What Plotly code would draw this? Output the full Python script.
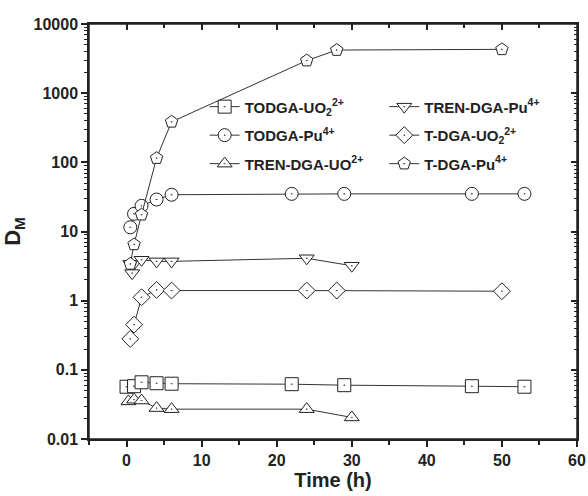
import plotly.graph_objects as go

# ---- data ----
todga_uo2_t = [0, 1, 2, 4, 6, 22, 29, 46, 53]
todga_uo2_d = [0.057, 0.058, 0.066, 0.064, 0.063, 0.062, 0.060, 0.058, 0.057]

todga_pu_t = [0.5, 1, 2, 4, 6, 22, 29, 46, 53]
todga_pu_d = [11.5, 18, 23.5, 29, 34, 35, 35, 35, 35]

tren_uo2_t = [0.25, 1, 2, 4, 6, 24, 30]
tren_uo2_d = [0.035, 0.037, 0.036, 0.028, 0.027, 0.027, 0.0205]

tren_pu_t = [0.5, 0.75, 2, 4, 6, 24, 30]
tren_pu_d = [3.4, 2.5, 3.9, 3.7, 3.7, 4.1, 3.2]

tdga_uo2_t = [0.5, 1, 2, 4, 6, 24, 28, 50]
tdga_uo2_d = [0.28, 0.45, 1.12, 1.43, 1.4, 1.4, 1.4, 1.37]

tdga_pu_t = [0.5, 1, 2, 4, 6, 24, 28, 50]
tdga_pu_d = [3.4, 6.5, 17.5, 115, 385, 2960, 4200, 4300]

series = [
    ("TODGA-UO<sub>2</sub><sup>2+</sup>", todga_uo2_t, todga_uo2_d, "square-dot", "legend"),
    ("TODGA-Pu<sup>4+</sup>", todga_pu_t, todga_pu_d, "circle-dot", "legend"),
    ("TREN-DGA-UO<sup>2+</sup>", tren_uo2_t, tren_uo2_d, "triangle-up-dot", "legend"),
    ("TREN-DGA-Pu<sup>4+</sup>", tren_pu_t, tren_pu_d, "triangle-down-dot", "legend2"),
    ("T-DGA-UO<sub>2</sub><sup>2+</sup>", tdga_uo2_t, tdga_uo2_d, "diamond-dot", "legend2"),
    ("T-DGA-Pu<sup>4+</sup>", tdga_pu_t, tdga_pu_d, "pentagon-dot", "legend2"),
]

FONT = "Liberation Sans, Arial, sans-serif"
INK = "#222222"

fig = go.Figure()
for i, (name, t, d, sym, leg) in enumerate(series):
    fig.add_trace(go.Scatter(
        x=t, y=d, name="<b>" + name + "</b>", mode="lines+markers", legend=leg,
        legendgroup="g%d" % i,
        line=dict(color="#333333", width=1),
        marker=dict(symbol=sym, size=13, color="white",
                    line=dict(color=INK, width=1)),
    ))

# invisible companion trace so the mirrored top/right tick axes get drawn
fig.add_trace(go.Scatter(
    x=todga_uo2_t, y=todga_uo2_d, xaxis="x2", yaxis="y2", mode="markers",
    marker=dict(opacity=0), showlegend=False, hoverinfo="skip",
))

axis_font = dict(family=FONT, size=16, color=INK)
common = dict(tickcolor=INK, tickwidth=1.5, linecolor=INK, linewidth=1.5,
              showgrid=False, zeroline=False, automargin=False)

fig.update_layout(
    width=588, height=496,
    margin=dict(l=89, r=11, t=24, b=57),
    paper_bgcolor="white", plot_bgcolor="white",
    font=dict(family=FONT, color=INK),
    xaxis=dict(
        range=[-5, 60], dtick=10, tick0=0, ticks="outside", ticklen=6,
        tickfont=axis_font,
        minor=dict(ticks="outside", ticklen=4, dtick=5, tick0=0, tickwidth=1.5,
                   tickcolor=INK, showgrid=False),
        title=dict(text="<b>Time (h)</b>", font=dict(family=FONT, size=20), standoff=4),
        tickprefix="<b>", ticksuffix="</b>", **common,
    ),
    yaxis=dict(
        type="log", range=[-2, 4], dtick=1, ticks="outside", ticklen=6,
        tickfont=axis_font, tickformat="~g",
        minor=dict(ticks="outside", ticklen=3, tickwidth=1, tickcolor=INK, showgrid=False),
        title=dict(text="<b>D<sub>M</sub></b>", font=dict(family=FONT, size=22), standoff=14),
        tickprefix="<b>", ticksuffix="</b>", **common,
    ),
    xaxis2=dict(
        overlaying="x", side="top", anchor="y", range=[-5, 60],
        dtick=10, tick0=0, ticks="inside", ticklen=6, showticklabels=False,
        minor=dict(ticks="inside", ticklen=4, dtick=5, tick0=0, tickwidth=1.5,
                   tickcolor=INK, showgrid=False),
        **common,
    ),
    yaxis2=dict(
        overlaying="y", side="right", anchor="x", type="log", range=[-2, 4],
        dtick=1, ticks="inside", ticklen=6, showticklabels=False,
        minor=dict(ticks="inside", ticklen=3, tickwidth=1, tickcolor=INK, showgrid=False),
        **common,
    ),
    legend=dict(
        x=0.237, y=0.84, xanchor="left", yanchor="top", bgcolor="rgba(0,0,0,0)",
        font=dict(family=FONT, size=15, color=INK), tracegroupgap=6,
        itemwidth=30,
    ),
    legend2=dict(
        x=0.605, y=0.84, xanchor="left", yanchor="top", bgcolor="rgba(0,0,0,0)",
        font=dict(family=FONT, size=15, color=INK), tracegroupgap=6,
        itemwidth=30,
    ),
    showlegend=True,
    shapes=[dict(type="rect", xref="paper", yref="paper", x0=0, x1=1, y0=0, y1=1,
                 line=dict(color=INK, width=1.5), fillcolor="rgba(0,0,0,0)",
                 layer="above")],
)

fig.write_html(
    "out.html",
    config={"displayModeBar": False},
    post_script="document.body.style.margin='0';document.body.style.overflow='hidden';",
)
